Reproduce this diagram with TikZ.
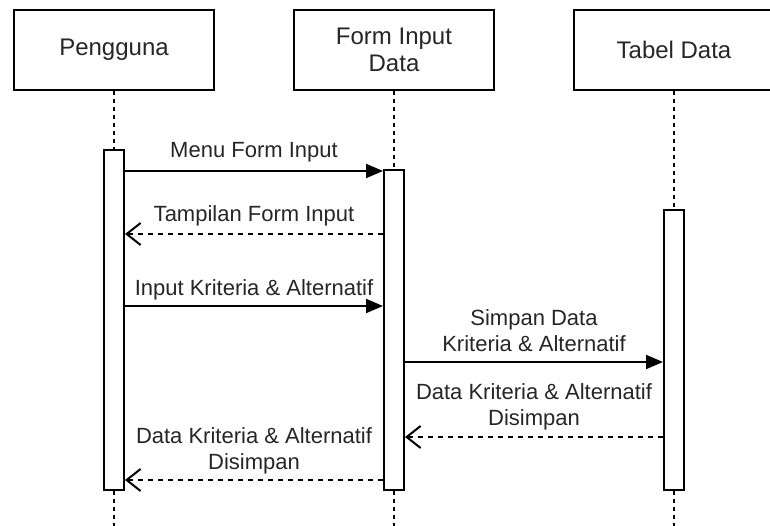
\documentclass[tikz,border=0pt]{standalone}
\usepackage{fontspec}
\setmainfont{Liberation Sans}
\usetikzlibrary{arrows.meta,calc}
\begin{document}
\begin{tikzpicture}[x=1pt,y=-1pt,
  head/.style={draw, line width=2pt, minimum width=200pt, minimum height=80pt,
    inner sep=0pt, align=center, text=black!85,
    font=\fontsize{24}{27}\selectfont},
  act/.style={draw, fill=white, line width=2pt, minimum width=20pt, inner sep=0pt},
  life/.style={line width=2pt, dash pattern=on 4pt off 4pt},
  call/.style={line width=2pt, -{Triangle[length=17pt,width=14pt]}},
  reply/.style={line width=2pt, dash pattern=on 5pt off 5pt,
    -{Straight Barb[length=14pt,width=22pt]}},
  lbl/.style={inner sep=0pt, align=center, text=black!85, anchor=base,
    font=\fontsize{22}{26}\selectfont}]
\useasboundingbox (0,0) rectangle (770,526);
\clip (0,0) rectangle (770,526);

% participants
\node[head] (boxP) at (114,50) {Pengguna};
\node[head] (boxF) at (394,50) {Form Input\\Data};
\node[head] (boxT) at (674,50) {Tabel Data};

% lifelines
\coordinate (endP) at (114,526);
\coordinate (endF) at (394,526);
\coordinate (endT) at (674,526);
\draw[life] (boxP) -- (endP);
\draw[life] (boxF) -- (endF);
\draw[life] (boxT) -- (endT);

% activation bars
\node[act, minimum height=340pt] (actP) at (114,320) {};
\node[act, minimum height=320pt] (actF) at (394,330) {};
\node[act, minimum height=280pt] (actT) at (674,350) {};

% message rows
\coordinate (y1) at (0,171);
\coordinate (y2) at (0,234);
\coordinate (y3) at (0,306);
\coordinate (y4) at (0,362);
\coordinate (y5) at (0,437);
\coordinate (y6) at (0,480);

% labels sit on the baseline of their last line
\draw[call] (actP.east |- y1) -- node[lbl, yshift=13pt] (t1) {Menu Form Input} (actF.west |- y1);
\draw[reply] (actF.west |- y2) -- node[lbl, yshift=12pt] (t2) {Tampilan Form Input} (actP.east |- y2);
\draw[call] (actP.east |- y3) -- node[lbl, yshift=11pt] (t3) {Input Kriteria \& Alternatif} (actF.west |- y3);
\draw[call] (actF.east |- y4) -- node[lbl, yshift=11pt] (t4) {Simpan Data\\Kriteria \& Alternatif} (actT.west |- y4);
\draw[reply] (actT.west |- y5) -- node[lbl, yshift=12pt] (t5) {Data Kriteria \& Alternatif\\Disimpan} (actF.east |- y5);
\draw[reply] (actF.west |- y6) -- node[lbl, yshift=11pt] (t6) {Data Kriteria \& Alternatif\\Disimpan} (actP.east |- y6);
\end{tikzpicture}
\end{document}
